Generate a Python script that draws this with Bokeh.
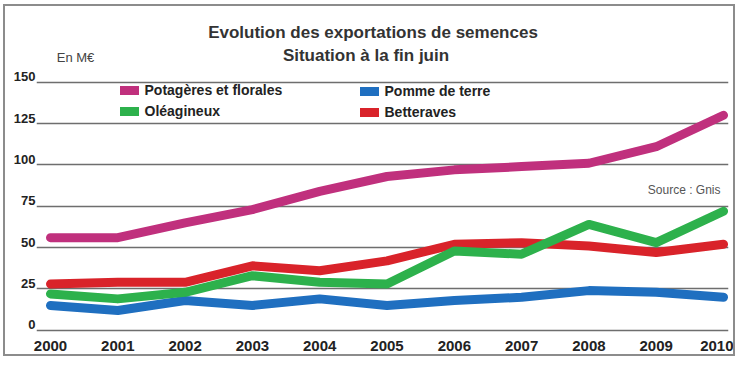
from bokeh.plotting import figure
from bokeh.models import (ColumnDataSource, Range1d, FixedTicker, Legend, LegendItem,
                          Label, LinearAxis)
from bokeh.embed import file_html
from bokeh.resources import INLINE

# ---- data ----
years = [2000, 2001, 2002, 2003, 2004, 2005, 2006, 2007, 2008, 2009, 2010]
potageres = [56, 56, 65, 73, 84, 93, 97, 99, 101, 111, 130]
pomme_de_terre = [15, 12, 18, 15, 19, 15, 18, 20, 24, 23, 20]
oleagineux = [22, 19, 23, 33, 29, 28, 48, 46, 64, 53, 72]
betteraves = [28, 29, 29, 39, 36, 42, 52, 53, 51, 47, 52]
y_ticks = [0, 25, 50, 75, 100, 125, 150]

title_text = "Evolution des exportations de semences"
subtitle_text = "Situation à la fin juin"
unit_text = "En M€"
source_text = "Source : Gnis"

FONT = "Liberation Sans"
TXT = "#222222"

W, H = 732, 352
Y0, Y1 = -1.93, 195.77
LAB_SHIFT = 3.33   # tick labels sit just above their grid line

p = figure(width=W, height=H, output_backend="svg", toolbar_location=None, title=None,
           x_range=Range1d(1999.792, 2010.074), y_range=Range1d(Y0, Y1),
           y_axis_location=None,
           min_border_left=31, min_border_right=9, min_border_top=0, min_border_bottom=25)
p.styles = {"border": "2px solid #8c8c8c", "margin-left": "3px", "margin-top": "4px"}
p.outline_line_color = None
p.background_fill_color = "white"
p.border_fill_color = "white"

p.xgrid.grid_line_color = None
p.ygrid.ticker = FixedTicker(ticks=y_ticks)
p.ygrid.grid_line_color = "#6e6e6e"
p.ygrid.grid_line_width = 1.5

p.extra_y_ranges = {"lab": Range1d(Y0 - LAB_SHIFT, Y1 - LAB_SHIFT)}
ya = LinearAxis(y_range_name="lab", ticker=FixedTicker(ticks=y_ticks))
ya.axis_line_color = None
ya.major_tick_line_color = None
ya.minor_tick_line_color = None
ya.major_tick_out = 0
ya.major_tick_in = 0
ya.major_label_standoff = 1
ya.major_label_text_font = FONT
ya.major_label_text_font_style = "bold"
ya.major_label_text_font_size = "13px"
ya.major_label_text_color = TXT
p.add_layout(ya, "left")

xa = p.xaxis[0]
xa.ticker = FixedTicker(ticks=years)
xa.axis_line_color = None
xa.major_tick_line_color = None
xa.minor_tick_line_color = None
xa.major_tick_out = 0
xa.major_tick_in = 0
xa.major_label_standoff = 7
xa.major_label_text_font = FONT
xa.major_label_text_font_style = "bold"
xa.major_label_text_font_size = "15px"
xa.major_label_text_color = TXT

series = [
    ("Potagères et florales", potageres, "#c0307d"),
    ("Pomme de terre", pomme_de_terre, "#1f6fc0"),
    ("Betteraves", betteraves, "#d9232a"),
    ("Oléagineux", oleagineux, "#2db14c"),
]
rend = {}
for name, vals, col in series:
    src = ColumnDataSource(dict(x=years, y=vals))
    rend[name] = p.line("x", "y", source=src, line_color=col, line_width=9,
                        line_cap="round", line_join="round")

def make_legend(names, vx, vy):
    leg = Legend(items=[LegendItem(label=n, renderers=[rend[n]]) for n in names],
                 location=(vx, vy), orientation="vertical",
                 glyph_width=19, glyph_height=20, label_height=20, label_standoff=6,
                 spacing=1, padding=0, margin=0, border_line_color=None,
                 background_fill_alpha=0, label_text_font=FONT,
                 label_text_font_style="bold", label_text_font_size="14px",
                 label_text_color=TXT)
    p.add_layout(leg)

make_legend(["Potagères et florales", "Oléagineux"], 83.5, 212)
make_legend(["Pomme de terre", "Betteraves"], 323.5, 211.5)

def screen_label(text, vx, vy, size, style, align, color=TXT):
    p.add_layout(Label(x=vx, y=vy, x_units="screen", y_units="screen", text=text,
                       text_font=FONT, text_font_size=size, text_font_style=style,
                       text_align=align, text_baseline="alphabetic", text_color=color))

screen_label(title_text, 336.5, 301.5, "17px", "bold", "center", "#333333")
screen_label(subtitle_text, 329.5, 278, "17px", "bold", "center", "#333333")
screen_label(unit_text, 39, 276, "13px", "normal", "center", "#444444")
screen_label(source_text, 684, 144, "12px", "normal", "right", "#555555")

open("out.html", "w").write(file_html(p, INLINE))
